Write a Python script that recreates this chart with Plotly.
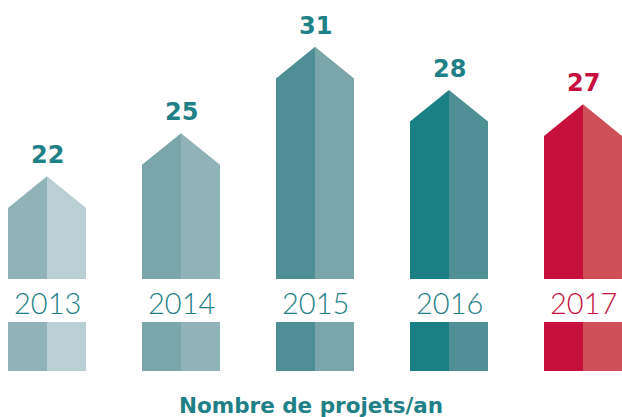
import plotly.graph_objects as go

years = ["2013", "2014", "2015", "2016", "2017"]
values = [22, 25, 31, 28, 27]
left_colors = ["#8fb3b7", "#7aa5a9", "#4e8f96", "#1a8085", "#c8103e"]
right_colors = ["#bacfd4", "#8fb3b7", "#7aa5a9", "#4e9095", "#d05058"]
label_colors = ["#1f8088", "#1f8088", "#1f8088", "#1f8088", "#c8103e"]
title_text = "Nombre de projets/an"

BASE = 17.07      # axis value at house floor
ROOF = 2.2        # roof height in axis units
HALF = 0.291      # half width of a house in x units

fig = go.Figure()
for i, (y, v) in enumerate(zip(years, values)):
    x0, x1 = i - HALF, i + HALF
    fig.add_trace(go.Scatter(
        x=[x0, x0, i, i, x0], y=[BASE, v, v + ROOF, BASE, BASE],
        fill="toself", fillcolor=left_colors[i], mode="lines",
        line=dict(width=0), hoverinfo="skip", showlegend=False))
    fig.add_trace(go.Scatter(
        x=[i, i, x1, x1, i], y=[BASE, v + ROOF, v, BASE, BASE],
        fill="toself", fillcolor=right_colors[i], mode="lines",
        line=dict(width=0), hoverinfo="skip", showlegend=False))
    # value label
    fig.add_annotation(x=i, y=v + ROOF, text=f"<b>{v}</b>", showarrow=False,
                       yanchor="middle", yshift=21,
                       font=dict(family="DejaVu Sans", size=24, color=label_colors[i]))
    # year label
    fig.add_annotation(x=i, xref="x", y=1 - 302 / 417, yref="paper", text=y,
                       showarrow=False, yanchor="middle",
                       font=dict(family="Lato", size=29, weight=300, color=label_colors[i]))
    # swatches
    fig.add_shape(type="rect", xref="x", yref="paper", x0=x0, x1=i,
                  y0=1 - 371 / 417, y1=1 - 322 / 417, fillcolor=left_colors[i],
                  line=dict(width=0), layer="below")
    fig.add_shape(type="rect", xref="x", yref="paper", x0=i, x1=x1,
                  y0=1 - 371 / 417, y1=1 - 322 / 417, fillcolor=right_colors[i],
                  line=dict(width=0), layer="below")

fig.add_annotation(x=311 / 622, xref="paper", y=1 - 405 / 417, yref="paper",
                   text=f"<b>{title_text}</b>", showarrow=False, yanchor="middle",
                   font=dict(family="DejaVu Sans", size=21.5, color="#1f8088"))

fig.update_layout(
    width=622, height=417, margin=dict(l=0, r=0, t=0, b=0),
    paper_bgcolor="white", plot_bgcolor="white",
    xaxis=dict(range=[-47 / 134, 575 / 134], visible=False, fixedrange=True),
    yaxis=dict(range=[BASE - 138 / 14.4, BASE + 279 / 14.4], visible=False, fixedrange=True),
)

fig.write_html("out.html", config={"displayModeBar": False},
               post_script="document.body.style.margin='0';document.body.style.overflow='hidden';")
